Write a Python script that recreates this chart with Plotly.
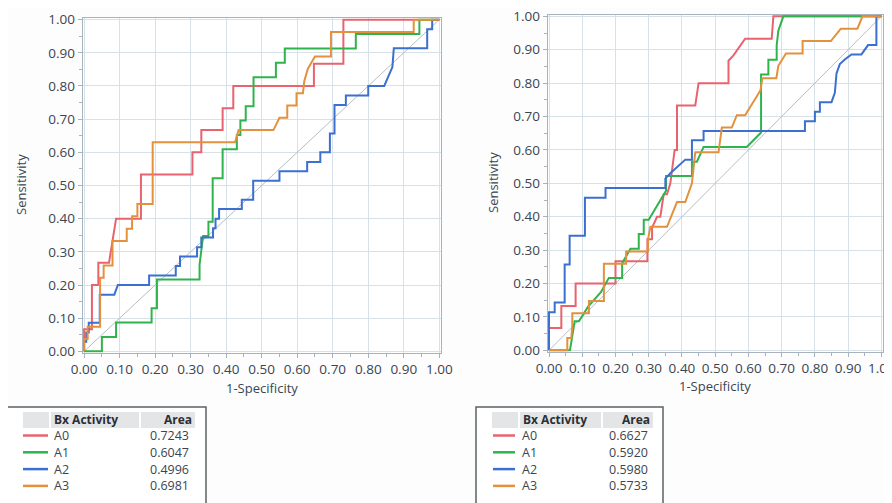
import plotly.graph_objects as go

# ---------------- data ----------------
series_names = ["A0", "A1", "A2", "A3"]
series_colors = ["#e8636e", "#2fb34c", "#3b6fd0", "#e3913d"]

# Left panel ROC curves (1-Specificity, Sensitivity)
left_a0_x = [0, 0, 0.022, 0.022, 0.04, 0.04, 0.07, 0.09, 0.16, 0.16, 0.305, 0.305, 0.33, 0.33, 0.39, 0.39, 0.42, 0.42, 0.647, 0.647, 0.73, 0.73, 1.0]
left_a0_y = [0, 0.067, 0.067, 0.2, 0.2, 0.267, 0.267, 0.4, 0.4, 0.533, 0.533, 0.6, 0.6, 0.667, 0.667, 0.733, 0.733, 0.8, 0.8, 0.867, 0.867, 1.0, 1.0]

left_a1_x = [0, 0.05, 0.05, 0.09, 0.09, 0.19, 0.19, 0.205, 0.205, 0.325, 0.325, 0.33, 0.335, 0.35, 0.35, 0.362, 0.362, 0.39, 0.39, 0.43, 0.43, 0.44, 0.44, 0.455, 0.455, 0.477, 0.477, 0.54, 0.54, 0.565, 0.565, 0.765, 0.765, 0.944, 0.944, 1.0]
left_a1_y = [0, 0, 0.043, 0.043, 0.087, 0.087, 0.13, 0.13, 0.217, 0.217, 0.261, 0.304, 0.348, 0.348, 0.391, 0.391, 0.522, 0.522, 0.609, 0.609, 0.652, 0.652, 0.696, 0.696, 0.739, 0.739, 0.826, 0.826, 0.87, 0.87, 0.913, 0.913, 0.957, 0.957, 1.0, 1.0]

left_a2_x = [0, 0, 0.006, 0.006, 0.013, 0.013, 0.044, 0.044, 0.085, 0.095, 0.183, 0.183, 0.258, 0.258, 0.27, 0.27, 0.318, 0.318, 0.33, 0.33, 0.363, 0.363, 0.37, 0.37, 0.38, 0.38, 0.444, 0.444, 0.476, 0.476, 0.55, 0.55, 0.628, 0.628, 0.665, 0.665, 0.692, 0.692, 0.705, 0.705, 0.737, 0.737, 0.80, 0.80, 0.845, 0.868, 0.872, 0.966, 0.966, 0.98, 0.98, 1.0]
left_a2_y = [0, 0.029, 0.029, 0.057, 0.057, 0.086, 0.086, 0.171, 0.171, 0.2, 0.2, 0.229, 0.229, 0.257, 0.257, 0.286, 0.286, 0.314, 0.314, 0.343, 0.343, 0.371, 0.371, 0.4, 0.4, 0.429, 0.429, 0.457, 0.457, 0.514, 0.514, 0.543, 0.543, 0.571, 0.571, 0.6, 0.6, 0.657, 0.657, 0.743, 0.743, 0.771, 0.771, 0.8, 0.8, 0.857, 0.914, 0.914, 0.971, 0.971, 1.0, 1.0]

left_a3_x = [0, 0, 0.01, 0.01, 0.045, 0.045, 0.055, 0.055, 0.08, 0.08, 0.12, 0.12, 0.135, 0.135, 0.15, 0.15, 0.193, 0.193, 0.425, 0.435, 0.533, 0.55, 0.572, 0.572, 0.598, 0.598, 0.616, 0.62, 0.63, 0.65, 0.695, 0.695, 0.928, 0.928, 1.0]
left_a3_y = [0, 0.037, 0.037, 0.074, 0.074, 0.222, 0.222, 0.259, 0.259, 0.333, 0.333, 0.37, 0.37, 0.407, 0.407, 0.444, 0.444, 0.63, 0.63, 0.667, 0.667, 0.704, 0.704, 0.741, 0.741, 0.778, 0.778, 0.815, 0.852, 0.889, 0.889, 0.963, 0.963, 1.0, 1.0]

# Right panel ROC curves
right_a0_x = [0, 0, 0.037, 0.037, 0.08, 0.08, 0.2, 0.2, 0.296, 0.296, 0.31, 0.31, 0.325, 0.335, 0.345, 0.355, 0.365, 0.37, 0.378, 0.385, 0.385, 0.44, 0.45, 0.54, 0.54, 0.555, 0.59, 0.67, 0.675, 1.0]
right_a0_y = [0, 0.067, 0.067, 0.133, 0.133, 0.2, 0.2, 0.267, 0.267, 0.333, 0.333, 0.367, 0.4, 0.4, 0.467, 0.467, 0.5, 0.533, 0.6, 0.6, 0.733, 0.733, 0.8, 0.8, 0.867, 0.883, 0.933, 0.933, 1.0, 1.0]

right_a1_x = [0, 0.063, 0.07, 0.077, 0.09, 0.117, 0.156, 0.18, 0.22, 0.22, 0.245, 0.27, 0.27, 0.285, 0.285, 0.30, 0.352, 0.352, 0.43, 0.43, 0.445, 0.465, 0.595, 0.638, 0.638, 0.66, 0.66, 0.685, 0.685, 0.69, 0.705, 1.0]
right_a1_y = [0, 0, 0.043, 0.087, 0.087, 0.13, 0.174, 0.217, 0.217, 0.261, 0.304, 0.304, 0.348, 0.348, 0.391, 0.391, 0.478, 0.522, 0.522, 0.565, 0.565, 0.609, 0.609, 0.652, 0.826, 0.826, 0.87, 0.87, 0.913, 0.957, 1.0, 1.0]

right_a2_x = [0, 0, 0.017, 0.017, 0.047, 0.047, 0.062, 0.062, 0.108, 0.108, 0.17, 0.17, 0.35, 0.35, 0.365, 0.38, 0.41, 0.43, 0.43, 0.465, 0.465, 0.77, 0.77, 0.80, 0.80, 0.815, 0.815, 0.85, 0.86, 0.865, 0.875, 0.89, 0.91, 0.94, 0.96, 0.985, 0.985, 1.0]
right_a2_y = [0, 0.114, 0.114, 0.143, 0.143, 0.257, 0.257, 0.343, 0.343, 0.457, 0.457, 0.486, 0.486, 0.514, 0.53, 0.543, 0.571, 0.571, 0.629, 0.629, 0.657, 0.657, 0.686, 0.686, 0.714, 0.714, 0.743, 0.743, 0.771, 0.829, 0.857, 0.871, 0.886, 0.886, 0.914, 0.914, 1.0, 1.0]

right_a3_x = [0, 0.055, 0.055, 0.067, 0.07, 0.07, 0.12, 0.12, 0.165, 0.165, 0.232, 0.232, 0.298, 0.298, 0.305, 0.355, 0.385, 0.41, 0.43, 0.435, 0.44, 0.51, 0.515, 0.52, 0.55, 0.565, 0.59, 0.636, 0.642, 0.684, 0.69, 0.713, 0.763, 0.763, 0.848, 0.878, 0.928, 0.943, 1.0]
right_a3_y = [0, 0, 0.037, 0.037, 0.074, 0.111, 0.111, 0.148, 0.148, 0.259, 0.259, 0.296, 0.296, 0.333, 0.37, 0.37, 0.444, 0.444, 0.5, 0.556, 0.593, 0.593, 0.63, 0.667, 0.667, 0.704, 0.704, 0.778, 0.815, 0.815, 0.852, 0.889, 0.889, 0.926, 0.926, 0.963, 0.963, 1.0, 1.0]

left_area = ["0.7243", "0.6047", "0.4996", "0.6981"]
right_area = ["0.6627", "0.5920", "0.5980", "0.5733"]

ref_x = [0, 1]
ref_y = [0, 1]

tick_vals = [0, 0.1, 0.2, 0.3, 0.4, 0.5, 0.6, 0.7, 0.8, 0.9, 1.0]
tick_text = ["0.00", "0.10", "0.20", "0.30", "0.40", "0.50", "0.60", "0.70", "0.80", "0.90", "1.00"]

x_title = "1-Specificity"
y_title = "Sensitivity"
table_header = ["Bx Activity", "Area"]

# ---------------- figure ----------------
OFF = 8                      # page body margin of the html page
W, H = 892 - OFF, 503 - OFF  # figure size that fits the window
FONT = "Open Sans, DejaVu Sans, sans-serif"
TXT = "#3a4550"

fig = go.Figure()

left_curves = [(left_a0_x, left_a0_y), (left_a1_x, left_a1_y), (left_a2_x, left_a2_y), (left_a3_x, left_a3_y)]
right_curves = [(right_a0_x, right_a0_y), (right_a1_x, right_a1_y), (right_a2_x, right_a2_y), (right_a3_x, right_a3_y)]

for axes, curves in [(("x", "y"), left_curves), (("x2", "y2"), right_curves)]:
    fig.add_trace(go.Scatter(x=ref_x, y=ref_y, mode="lines", xaxis=axes[0], yaxis=axes[1],
                             line=dict(color="#b3bec6", width=1), showlegend=False, hoverinfo="skip"))
    for i, (cx, cy) in enumerate(curves):
        fig.add_trace(go.Scatter(x=cx, y=cy, mode="lines", xaxis=axes[0], yaxis=axes[1],
                                 name=series_names[i], line=dict(color=series_colors[i], width=2),
                                 showlegend=False))

def px_x(p):
    return (p - OFF) / W

def px_y(p):
    return 1 - (p - OFF) / H

axis_common = dict(
    range=[-0.004, 1.004], tickvals=tick_vals, ticktext=tick_text,
    showgrid=True, gridcolor="#d7e1e8", gridwidth=1,
    showline=True, linecolor="#a7b4bd", linewidth=1, mirror=True,
    ticks="outside", ticklen=4, tickcolor="#a7b4bd",
    minor=dict(ticks="outside", ticklen=3, dtick=0.05, tickcolor="#a7b4bd", showgrid=False),
    zeroline=False, fixedrange=True, automargin=False, ticklabeloverflow="allow",
    tickfont=dict(family=FONT, size=13.5, color=TXT),
)

fig.update_layout(
    width=W, height=H,
    margin=dict(l=0, r=0, t=0, b=0),
    paper_bgcolor="#fdfdfe", plot_bgcolor="#ffffff",
    xaxis=dict(domain=[px_x(82.7), px_x(440.7)], anchor="y", **axis_common),
    yaxis=dict(domain=[px_y(352.7), px_y(18.3)], anchor="x", **axis_common),
    xaxis2=dict(domain=[px_x(547.7), px_x(882.7)], anchor="y2", **axis_common),
    yaxis2=dict(domain=[px_y(351.7), px_y(15)], anchor="x2", **axis_common),
)

annotations = []
shapes = []

# axis titles
for cx, ty in [(261.7, 388), (715, 386)]:
    annotations.append(dict(x=px_x(cx), y=px_y(ty), xref="paper", yref="paper", text=x_title,
                            showarrow=False, font=dict(family=FONT, size=13, color=TXT),
                            xanchor="center", yanchor="middle"))
for cyx, cyy in [(21, 185), (493, 183)]:
    annotations.append(dict(x=px_x(cyx), y=px_y(cyy), xref="paper", yref="paper", text=y_title,
                            showarrow=False, textangle=-90, font=dict(family=FONT, size=13, color=TXT),
                            xanchor="center", yanchor="middle"))

# tables
tables = [
    dict(box=(6, 206), head=(23, 49, 51, 139, 141, 195), line=(23, 48), label=52, val=191, areas=left_area),
    dict(box=(476, 663), head=(492, 518, 520, 601, 603, 653), line=(493, 515), label=520, val=650, areas=right_area),
]
for t in tables:
    b0, b1 = t["box"]
    shapes.append(dict(type="rect", xref="paper", yref="paper", x0=px_x(b0), x1=px_x(b1),
                       y0=px_y(510), y1=px_y(407), line=dict(color="#5b6166", width=1.5),
                       fillcolor="#ffffff", layer="below"))
    h = t["head"]
    for a, b in [(h[0], h[1]), (h[2], h[3]), (h[4], h[5])]:
        shapes.append(dict(type="rect", xref="paper", yref="paper", x0=px_x(a), x1=px_x(b),
                           y0=px_y(428), y1=px_y(412), line=dict(width=0), fillcolor="#e4e5e7",
                           layer="below"))
    annotations.append(dict(x=px_x(h[2] + 1), y=px_y(419.5), xref="paper", yref="paper",
                            text="<b>" + table_header[0] + "</b>", showarrow=False,
                            xanchor="left", yanchor="middle",
                            font=dict(family=FONT, size=12, color="#2a2f35")))
    annotations.append(dict(x=px_x(h[5] - 1), y=px_y(419.5), xref="paper", yref="paper",
                            text="<b>" + table_header[1] + "</b>", showarrow=False,
                            xanchor="right", yanchor="middle",
                            font=dict(family=FONT, size=12, color="#2a2f35")))
    for i in range(4):
        ry = 435.5 + 16.8 * i
        shapes.append(dict(type="line", xref="paper", yref="paper", x0=px_x(t["line"][0]),
                           x1=px_x(t["line"][1]), y0=px_y(ry), y1=px_y(ry),
                           line=dict(color=series_colors[i], width=2.5)))
        annotations.append(dict(x=px_x(t["label"]), y=px_y(ry), xref="paper", yref="paper",
                                text=series_names[i], showarrow=False, xanchor="left", yanchor="middle",
                                font=dict(family=FONT, size=12.5, color=TXT)))
        annotations.append(dict(x=px_x(t["val"]), y=px_y(ry), xref="paper", yref="paper",
                                text=t["areas"][i], showarrow=False, xanchor="right", yanchor="middle",
                                font=dict(family=FONT, size=12.5, color=TXT)))

fig.update_layout(annotations=annotations, shapes=shapes)
fig.write_html("out.html")
